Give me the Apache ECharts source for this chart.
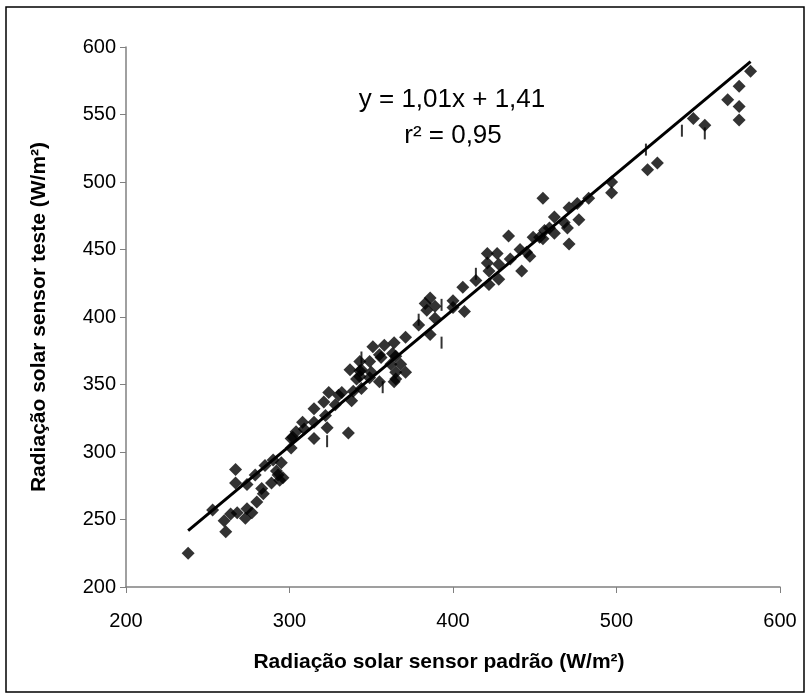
<!DOCTYPE html>
<html><head><meta charset="utf-8">
<script src="https://cdn.jsdelivr.net/npm/echarts@6/dist/echarts.min.js"></script>
<style>html,body{margin:0;padding:0;background:#fff}#c{width:810px;height:699px}</style>
</head><body><div id="c"></div>
<script>
// Radiação solar sensor padrão (x) vs sensor teste (y), W/m²
const sensorPadrao = [238,253,260,261,264,267,267,268,273,274,274,277,279,280,283,284,285,289,290,292,293,294,295,296,
  301,301,302,304,308,309,315,315,315,323,322,321,324,328,330,332,336,338,337,339,341,343,343,343,344,344,349,349,350,351,
  355,355,356,358,363,364,362,365,364,365,365,371,371,368,379,386,384,383,386,389,389,400,400,407,406,414,421,421,422,422,
  427,428,428,434,435,441,442,445,447,449,453,455,456,455,459,462,462,468,470,471,471,476,477,483,497,497,519,525,547,554,
  568,575,575,575,582];
const sensorTeste = [225,257,249,241,254,287,277,255,251,276,258,255,283,263,273,269,290,277,294,286,283,279,292,281,
  303,310,311,315,322,317,332,322,310,318,327,337,344,335,342,344,314,338,361,345,354,360,367,356,361,347,355,367,359,378,
  372,352,370,379,373,381,365,359,352,371,354,385,359,365,394,387,405,410,414,408,399,412,407,404,422,427,447,440,434,424,
  447,439,428,460,443,450,434,448,445,459,459,488,464,458,466,462,474,470,466,481,454,484,472,488,500,492,509,514,547,542,
  561,571,556,546,582];
// short vertical marks visible in the plot
const markX = [323,344,357,379,393,393,414,518,540,554];
const markY = [308,370,348,398,409,381,432,524,538,536];
const xTicks = [200,300,400,500,600];
const yTicks = [200,250,300,350,400,450,500,550,600];
const slope = 1.01, intercept = 1.41;
const fitX = [238, 582];

const pts = sensorPadrao.map((x,i)=>[x, sensorTeste[i]]);
const marks = markX.map((x,i)=>[x, markY[i]]);
const fit = fitX.map(x=>[x, slope*x+intercept]);

const chart = echarts.init(document.getElementById('c'), null, {renderer:'canvas'});
const font = '"Liberation Sans", Arial, sans-serif';
chart.setOption({
  backgroundColor:'#fff',
  animation:false,
  grid:{left:126, right:30, top:47, bottom:112},
  xAxis:{type:'value', min:xTicks[0], max:xTicks[xTicks.length-1], interval:100,
    name:'Radiação solar sensor padrão (W/m²)', nameLocation:'middle', nameGap:65,
    nameTextStyle:{fontFamily:font, fontSize:21, fontWeight:'bold', color:'#000', padding:[0,28,0,0]},
    axisLine:{show:true, onZero:false, lineStyle:{color:'#808080', width:1.5}},
    axisTick:{show:true, length:6, lineStyle:{color:'#808080'}},
    axisLabel:{fontFamily:font, fontSize:20, color:'#000', margin:24},
    splitLine:{show:false}},
  yAxis:{type:'value', min:yTicks[0], max:yTicks[yTicks.length-1], interval:50,
    name:'Radiação solar sensor teste (W/m²)', nameLocation:'middle', nameGap:76,
    nameTextStyle:{fontFamily:font, fontSize:21, fontWeight:'bold', color:'#000'},
    axisLine:{show:true, onZero:false, lineStyle:{color:'#808080', width:1.5}},
    axisTick:{show:true, length:6, lineStyle:{color:'#808080'}},
    axisLabel:{fontFamily:font, fontSize:20, color:'#000', margin:10},
    splitLine:{show:false}},
  graphic:[
    {type:'rect', shape:{x:6, y:7, width:798, height:685}, style:{fill:'none', stroke:'#000', lineWidth:1.5}, silent:true},
    {type:'text', style:{text:'y = 1,01x + 1,41', x:452, y:100, textAlign:'center', textVerticalAlign:'middle', font:'26px '+font, fill:'#000'}},
    {type:'text', style:{text:'r² = 0,95', x:453, y:136, textAlign:'center', textVerticalAlign:'middle', font:'26px '+font, fill:'#000'}}
  ],
  series:[
    {type:'line', data:fit, symbol:'none', lineStyle:{color:'#000', width:3}, z:3},
    {type:'scatter', data:pts, symbol:'diamond', symbolSize:13, itemStyle:{color:'#000'}, z:4},
    {type:'scatter', data:marks, symbol:'rect', symbolSize:[2,12], itemStyle:{color:'#000'}, z:4}
  ]
});
</script></body></html>
